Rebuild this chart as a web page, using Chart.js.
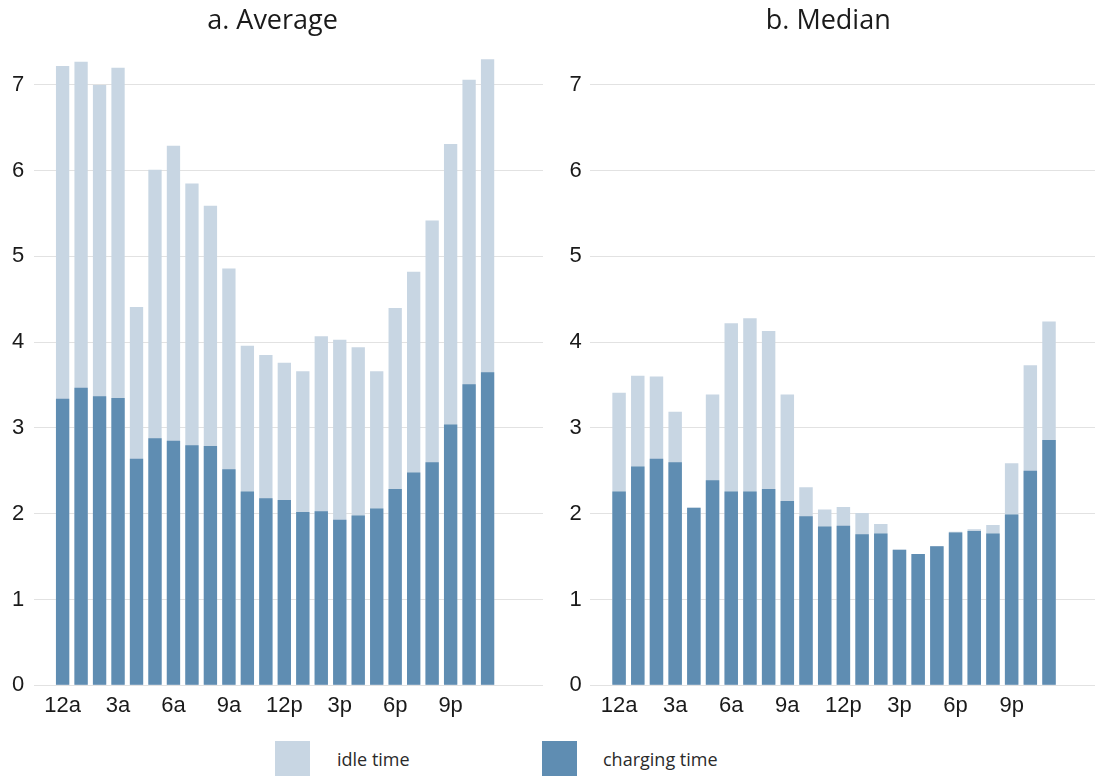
<!DOCTYPE html>
<html>
<head>
<meta charset="utf-8">
<script src="https://cdn.jsdelivr.net/npm/chart.js@4/dist/chart.umd.min.js"></script>
<style>
  html, body { margin: 0; padding: 0; background: #ffffff; }
  #wrap { position: relative; width: 1095px; height: 776px; overflow: hidden; background: #fff; }
  #cLeft { position: absolute; left: 0; top: 0; }
  #cRight { position: absolute; left: 550px; top: 0; }
  .lbox { position: absolute; top: 741px; width: 35px; height: 35px; }
  .ltxt { position: absolute; top: 747px; font-family: "Open Sans", sans-serif; font-size: 18px; color: #2a2a2a; line-height: 24px; white-space: nowrap; }
</style>
</head>
<body>
<div id="wrap">
  <canvas id="cLeft" width="550" height="730"></canvas>
  <canvas id="cRight" width="545" height="730"></canvas>
  <div class="lbox" id="boxIdle" style="left:275px;"></div>
  <div class="ltxt" style="left:337px;">idle time</div>
  <div class="lbox" id="boxCharge" style="left:542px;"></div>
  <div class="ltxt" style="left:603px;">charging time</div>
</div>
<script>
const hourLabels = ['12a','1a','2a','3a','4a','5a','6a','7a','8a','9a','10a','11a','12p','1p','2p','3p','4p','5p','6p','7p','8p','9p','10p','11p'];

// a. Average (hours): total session time (top of light bar) and charging time
const avgTotal    = [7.22,7.27,7.00,7.20,4.41,6.01,6.29,5.85,5.59,4.86,3.96,3.85,3.76,3.66,4.07,4.03,3.94,3.66,4.40,4.82,5.42,6.31,7.06,7.30];
const avgCharging = [3.34,3.47,3.37,3.35,2.64,2.88,2.85,2.80,2.79,2.52,2.26,2.18,2.16,2.02,2.03,1.93,1.98,2.06,2.29,2.48,2.60,3.04,3.51,3.65];

// b. Median (hours)
const medTotal    = [3.41,3.61,3.60,3.19,2.07,3.39,4.22,4.28,4.13,3.39,2.31,2.05,2.08,2.01,1.88,1.58,1.53,1.62,1.79,1.82,1.87,2.59,3.73,4.24];
const medCharging = [2.26,2.55,2.64,2.60,2.07,2.39,2.26,2.26,2.29,2.15,1.97,1.85,1.86,1.76,1.77,1.58,1.53,1.62,1.78,1.80,1.77,1.99,2.50,2.86];

const seriesNames = ['idle time', 'charging time'];
const titles = ['a. Average', 'b. Median'];

const COLOR_IDLE = '#c8d6e3';
const COLOR_CHARGE = '#5f8db2';
const GRID = '#e2e2e2';
const TICK_FONT = { family: '"Liberation Sans", Arial, sans-serif', size: 22 };

document.getElementById('boxIdle').style.background = COLOR_IDLE;
document.getElementById('boxCharge').style.background = COLOR_CHARGE;

function pts(arr) { return arr.map((v, i) => ({ x: i, y: v })); }

function makeChart(id, title, total, charging, xMin, xMax, pad, yPad) {
  return new Chart(document.getElementById(id), {
    type: 'bar',
    data: {
      datasets: [
        { label: seriesNames[1], data: pts(charging), backgroundColor: COLOR_CHARGE, order: 0, grouped: false,
          categoryPercentage: 0.8, barPercentage: 0.9 },
        { label: seriesNames[0], data: pts(total), backgroundColor: COLOR_IDLE, order: 1, grouped: false,
          categoryPercentage: 0.8, barPercentage: 0.9 }
      ]
    },
    options: {
      responsive: false,
      animation: false,
      devicePixelRatio: 1,
      layout: { padding: pad },
      plugins: {
        legend: { display: false },
        tooltip: { enabled: false },
        title: {
          display: true,
          text: title,
          color: '#1a1a1a',
          font: { family: '"Open Sans", sans-serif', size: 27, weight: 'normal' },
          padding: { top: 5, bottom: 4.6 }
        }
      },
      scales: {
        x: {
          type: 'linear',
          min: xMin,
          max: xMax,
          offset: false,
          grid: { display: false, drawTicks: false },
          border: { display: false },
          ticks: {
            stepSize: 3,
            includeBounds: false,
            autoSkip: false,
            maxRotation: 0,
            padding: 7,
            color: '#1a1a1a',
            font: TICK_FONT,
            callback: (v) => (hourLabels[v] !== undefined && v % 3 === 0) ? hourLabels[v] : ''
          }
        },
        y: {
          min: 0,
          max: 7.5,
          grid: { color: GRID, lineWidth: 1, drawTicks: false },
          border: { display: false },
          ticks: {
            stepSize: 1,
            includeBounds: false,
            padding: yPad,
            color: '#1a1a1a',
            font: TICK_FONT
          }
        }
      }
    }
  });
}

makeChart('cLeft', titles[0], avgTotal, avgCharging, -1.53, 26.0,
  { left: 2.1, right: 7, top: 0, bottom: 4.3 }, 10);
makeChart('cRight', titles[1], medTotal, medCharging, -1.57, 25.46,
  { left: 11.5, right: 0, top: 0, bottom: 4.3 }, 8);
</script>
</body>
</html>
